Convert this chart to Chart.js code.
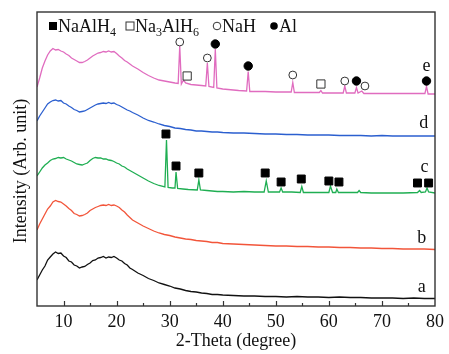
<!DOCTYPE html>
<html lang="en">
<head>
<meta charset="UTF-8">
<title>XRD patterns</title>
<script src="https://cdn.jsdelivr.net/npm/chart.js"></script>
<style>
  html, body { margin: 0; padding: 0; background: white; }
  #wrap { width: 449px; height: 354px; }
</style>
</head>
<body>
<div id="wrap"><canvas id="xrd"></canvas></div>
<script>
// 2-theta grid shared by the smooth patterns a, b, d
const thetaBase = [5,5.5,6,6.5,7,7.5,8,8.5,9,9.5,10,10.5,11,11.5,12,12.5,13,13.5,14,14.5,15,15.5,16,16.5,17,17.5,18,18.5,19,19.5,20,20.5,21,21.5,22,22.5,23,24,25,26,27,28,29,30,31,32,33,34,35,36,37,38,39,40,42,44,46,48,50,52,54,56,58,60,62,64,66,68,70,72,74,76,78,80];
const intensityA = [26,31,36,40,46,49,52,54,52.5,53,50,48.5,45,44,41,40,38,39,39.5,41.5,43,45.5,46,48,48.5,49.5,48,49,48.5,49.5,48,46,45,42.5,41,38,36.5,33,30.5,27.5,25.5,23,21.5,20,18,17,15.5,14.5,14,13,12.5,11.5,11.5,11,10.5,10,10,9.5,9.5,9,9.5,9,9,8.5,9,8.5,8.5,8,8,8,7.5,8,7.5,7.5];
const intensityB = [76,82,87,92,97,100,104,105.5,104.5,104,102,100,97.5,95.5,92.5,91.5,90,90.5,91.5,93,95.5,97,98.5,99.5,100.5,101,100.5,101.5,100.5,101,100,98.5,96,94,91,88.5,86,83,80,77.5,75,73,71.5,70.5,69,68,67,66.5,65.5,65,64.5,63.5,63.5,62.5,62,61.5,61,60.5,60,60,59.5,59.5,59,59,58.5,58.5,58,58,57.5,57.5,57,57,57,56.5];
const intensityD = [185,190,194,198,202,204,205.5,206,205,205.5,203,202,200,198.5,196.5,195.5,194,194.5,195,196.5,198,199.5,201,202,202.5,203,202.5,203.5,202.5,203,201.5,200.5,199,197.5,196,195,193.5,191,188,185.5,184,182,180.5,179.5,178,177.5,176.5,176,175,175,174.5,174,174,173.5,173,173,172.5,172,172,171.5,171.5,171,171,171,170.5,170.5,170.5,170,170.5,170,170,170,170,170];

// pattern c (NaAlH4 peaks)
const thetaC = [5,5.5,6,6.5,7,7.5,8,8.5,9,9.5,10,10.5,11,11.5,12,12.5,13,13.5,14,14.5,15,15.5,16,16.5,17,17.5,18,18.5,19,19.5,20,20.5,21,21.5,22,22.5,23,24,25,26,27,28,29.1,29.4,29.7,30.5,31,31.2,31.5,32.5,33.5,35.2,35.5,35.8,37,38,39,40,42,44,46,47.8,48.2,48.6,50.7,51,51.3,53,54.6,54.9,55.2,57,60,60.3,60.7,61.3,61.5,61.8,64,65.4,65.7,66,68,70,72,74,76.7,77.1,77.4,78.2,78.5,78.8,80];
const intensityC = [130,134,138,141,143,145.5,147,147.5,148.5,148,148.5,147,146,145,143.5,142,141.5,141,142,143,145.5,147.5,148.5,148,148,147,147,146,145.5,144.5,143,142,140,139,137,135.5,134,131,128,125,122.5,120.5,119,166,118.5,118,118,134,117.5,117,116.5,116,126,116,115.5,115,114.5,114.5,114,114.5,114,114,125,114,114,118,114,114,113.5,119.5,113.5,113.5,113.5,120,113.5,113.5,117,113.5,113.5,113.5,115.5,113.5,113,113,113,113,113.5,115.5,113.5,114,118,114,113];

// pattern e (NaH, Al, Na3AlH6 peaks)
const thetaE = [5,5.5,6,6.5,7,7.5,8,8.5,9,9.5,10,10.5,11,11.5,12,12.5,13,13.5,14,14.5,15,15.5,16,16.5,17,17.5,18,18.5,19,19.5,20,20.5,21,21.5,22,22.5,23,24,25,26,27,28,29,30,31,31.6,31.9,32.2,32.6,33,34,35,36,36.8,37.1,37.4,38.3,38.6,38.9,40,41,42,43,44.5,44.8,45.1,46,48,50,52.9,53.2,53.5,55,57,58.2,58.5,58.8,60,62.7,63,63.3,64.9,65.2,65.5,66.2,66.6,68,70,72,74,76,78.1,78.4,78.7,80];
const intensityE = [219,228,238,245,251,255,257.5,256,256.5,255,254,252,250.5,248,246.5,245,243.5,243.5,244.5,246,248,250,251.5,253,253.5,254.5,254,255,254,254.5,252.5,250,248,245.5,244,242,240,237,233.5,230.5,228,226,225,224,223,222.5,260,222,226,223,221.5,221,220.5,220,243,219.5,218.5,257,218,217,216.5,216,215.5,215,234.5,214.5,214.5,214.5,214,214,223.5,213.5,213.5,213.5,213.5,215.5,213,213,213,220,213,213,218.5,213,215,212.5,212.5,212.5,212.5,212.5,212.5,212.5,219.5,212,212];

// phase markers above the peaks
const naAlH4Theta = [29.3,31.2,35.5,48.0,51.0,54.8,60.0,61.9,76.7,78.8];
const naAlH4Level = [172,140,133,133,124,127,125,124,123,123];
const na3AlH6Theta = [33.3,58.5];
const na3AlH6Level = [230,222];
const naHTheta = [31.9,37.1,53.2,63.0,66.8];
const naHLevel = [264,248,231,225,220];
const alTheta = [38.6,44.8,65.2,78.4];
const alLevel = [262,240,225,225];

const phaseNames = ['NaAlH4','Na3AlH6','NaH','Al'];
const sampleLetters = ['a','b','c','d','e'];
const xTicks = [10,20,30,40,50,60,70,80];

const serif = "'Liberation Serif', 'DejaVu Serif', serif";

function pts(xs, ys) {
  return xs.map((x, i) => ({ x: x, y: ys[i] }));
}

function lineSet(xs, ys, color) {
  return {
    data: pts(xs, ys), borderColor: color, borderWidth: 1.3,
    pointRadius: 0, tension: 0, order: 1
  };
}

function markerSet(xs, ys, style, radius, filled) {
  return {
    data: pts(xs, ys), showLine: false, order: 0,
    pointStyle: style, pointRadius: radius, pointHoverRadius: radius,
    pointBackgroundColor: filled ? '#000' : '#fff',
    pointBorderColor: filled ? '#000' : '#333',
    pointBorderWidth: 1
  };
}

// draws a formula like Na3AlH6 with digits as subscripts
function drawFormula(ctx, text, x, y) {
  const parts = text.match(/\d+|\D+/g);
  parts.forEach(p => {
    const sub = /\d/.test(p);
    ctx.font = (sub ? '12px ' : '18px ') + serif;
    ctx.fillText(p, x, sub ? y + 4 : y);
    x += ctx.measureText(p).width;
  });
}

function drawMarker(ctx, kind, x, y) {
  ctx.beginPath();
  ctx.lineWidth = 1;
  if (kind === 0) { ctx.fillStyle = '#000'; ctx.fillRect(x - 4, y - 4, 8, 8); return; }
  if (kind === 1) { ctx.strokeStyle = '#333'; ctx.strokeRect(x - 4, y - 4, 8, 8); return; }
  ctx.arc(x, y, 3.8, 0, Math.PI * 2);
  if (kind === 2) { ctx.strokeStyle = '#333'; ctx.stroke(); }
  else { ctx.fillStyle = '#000'; ctx.fill(); }
}

const decor = {
  id: 'decor',
  afterDraw(chart) {
    const { ctx, chartArea: a, scales } = chart;
    const xs = scales.x, ys = scales.y;
    ctx.save();
    // frame
    ctx.strokeStyle = '#333';
    ctx.lineWidth = 1.4;
    ctx.strokeRect(a.left, a.top, a.right - a.left, a.bottom - a.top);
    // inward ticks on the bottom axis
    ctx.lineWidth = 1.2;
    for (let v = 10; v < 80; v += 5) {
      const px = Math.round(xs.getPixelForValue(v)) + 0.5;
      const len = v % 10 === 0 ? 5 : 3;
      ctx.beginPath();
      ctx.moveTo(px, a.bottom);
      ctx.lineTo(px, a.bottom - len);
      ctx.stroke();
    }
    // legend
    ctx.textBaseline = 'alphabetic';
    ctx.textAlign = 'left';
    const legendX = [53, 130, 217, 274];
    phaseNames.forEach((name, i) => {
      drawMarker(ctx, i, legendX[i], 26);
      ctx.fillStyle = '#111';
      drawFormula(ctx, name, legendX[i] + 5, 31.5);
    });
    // sample letters
    const letterPos = [[77.5, 19], [77.5, 68], [78.0, 139], [77.9, 183], [78.4, 240]];
    ctx.font = '18px ' + serif;
    ctx.textAlign = 'center';
    ctx.textBaseline = 'middle';
    ctx.fillStyle = '#111';
    sampleLetters.forEach((s, i) => {
      ctx.fillText(s, xs.getPixelForValue(letterPos[i][0]), ys.getPixelForValue(letterPos[i][1]));
    });
    // y axis title, sitting a little below the middle as in the figure
    ctx.save();
    ctx.translate(21, 171);
    ctx.rotate(-Math.PI / 2);
    ctx.font = '18px ' + serif;
    ctx.fillText('Intensity (Arb. unit)', 0, 0);
    ctx.restore();
    ctx.restore();
  }
};

new Chart(document.getElementById('xrd'), {
  type: 'line',
  data: {
    datasets: [
      lineSet(thetaBase, intensityA, '#111111'),
      lineSet(thetaBase, intensityB, '#f2553a'),
      lineSet(thetaC, intensityC, '#1fae52'),
      lineSet(thetaBase, intensityD, '#2b5fcf'),
      lineSet(thetaE, intensityE, '#e06cbf'),
      markerSet(naAlH4Theta, naAlH4Level, 'rect', 5.6, true),
      markerSet(na3AlH6Theta, na3AlH6Level, 'rect', 5.8, false),
      markerSet(naHTheta, naHLevel, 'circle', 3.9, false),
      markerSet(alTheta, alLevel, 'circle', 4.2, true)
    ]
  },
  options: {
    responsive: true,
    maintainAspectRatio: false,
    devicePixelRatio: 1,
    animation: false,
    layout: { padding: { left: 0, top: 12, right: 12, bottom: 0 } },
    plugins: { legend: { display: false }, tooltip: { enabled: false } },
    scales: {
      x: {
        type: 'linear', min: 5, max: 80,
        afterFit(scale) { scale.height = 48; },
        grid: { display: false, drawTicks: false },
        border: { display: false },
        afterBuildTicks(scale) { scale.ticks = xTicks.map(v => ({ value: v })); },
        ticks: {
          autoSkip: false, maxRotation: 0, padding: 5,
          color: '#111', font: { family: serif, size: 18 }
        },
        title: {
          display: true, text: '2-Theta (degree)', color: '#111',
          font: { family: serif, size: 18 }, padding: { top: 0, bottom: 2 }
        }
      },
      y: {
        min: 0, max: 294,
        afterFit(scale) { scale.width = 37; },
        grid: { display: false, drawTicks: false },
        border: { display: false },
        ticks: { display: false },
        title: { display: false }
      }
    }
  },
  plugins: [decor]
});
</script>
</body>
</html>
